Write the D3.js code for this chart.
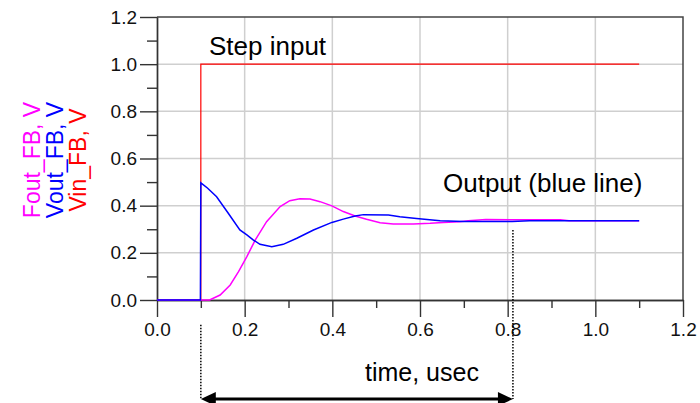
<!DOCTYPE html>
<html>
<head>
<meta charset="utf-8">
<script src="https://cdn.jsdelivr.net/npm/d3@7"></script>
<style>
  body { margin: 0; background: #fff; }
  svg text { font-family: "Liberation Sans", Arial, sans-serif; }
</style>
</head>
<body>
<script>
// time axis in usec, values in V
var vinTime = [0, 0.1, 0.1, 1.1];
var vinVals = [0, 0, 1.0, 1.0];

var voutTime = [0, 0.099, 0.1, 0.115, 0.136, 0.163, 0.189, 0.205, 0.220, 0.235, 0.262, 0.288, 0.319,
                0.357, 0.399, 0.425, 0.452, 0.471, 0.528, 0.554, 0.592, 0.646, 0.70, 0.81, 0.85, 1.1];
var voutVals = [0, 0, 0.497, 0.475, 0.438, 0.367, 0.297, 0.276, 0.254, 0.236, 0.226, 0.236, 0.262,
                0.297, 0.329, 0.343, 0.356, 0.362, 0.360, 0.353, 0.346, 0.336, 0.333, 0.333, 0.336, 0.336];

var foutTime = [0, 0.12, 0.144, 0.167, 0.186, 0.205, 0.224, 0.250, 0.281, 0.303, 0.326, 0.349, 0.372,
                0.399, 0.425, 0.452, 0.478, 0.509, 0.539, 0.585, 0.623, 0.653, 0.691, 0.71, 0.75, 0.92, 0.94, 1.1];
var foutVals = [0, 0, 0.021, 0.064, 0.120, 0.184, 0.254, 0.332, 0.396, 0.421, 0.429, 0.428, 0.417,
                0.399, 0.375, 0.356, 0.342, 0.328, 0.322, 0.322, 0.325, 0.329, 0.332, 0.336, 0.341, 0.340, 0.336, 0.336];

var majorTicks = [0, 0.2, 0.4, 0.6, 0.8, 1.0, 1.2];
var minorTicks = [0.1, 0.3, 0.5, 0.7, 0.9, 1.1];
var gridTicks = [0.2, 0.4, 0.6, 0.8, 1.0];

var yLabels = ["Fout_FB, V", "Vout_FB, V", "Vin_FB, V"];
var yLabelColors = ["#ff00ff", "#0000ff", "#ff0000"];

// annotation: span marked below the plot (usec) and where the dotted guides start (V)
var spanTimes = [0.1, 0.812];
var guideTops = [-0.105, 0.297];
var arrowLevel = -0.42;

var W = 700, H = 403;
var x = d3.scaleLinear().domain([0, 1.2]).range([157, 683]);
var y = d3.scaleLinear().domain([0, 1.2]).range([300, 17]);

var svg = d3.select("body").append("svg")
    .attr("width", W).attr("height", H);

svg.append("rect").attr("width", W).attr("height", H).attr("fill", "#fff");

// grid
svg.append("g").selectAll("line").data(gridTicks).enter().append("line")
    .attr("x1", function(d) { return x(d); }).attr("x2", function(d) { return x(d); })
    .attr("y1", y(0)).attr("y2", y(1.2))
    .attr("stroke", "#cfcfcf").attr("stroke-width", 1.5);
svg.append("g").selectAll("line").data(gridTicks).enter().append("line")
    .attr("y1", function(d) { return y(d); }).attr("y2", function(d) { return y(d); })
    .attr("x1", x(0)).attr("x2", x(1.2))
    .attr("stroke", "#cfcfcf").attr("stroke-width", 1.5);

// frame top + right
svg.append("path")
    .attr("d", "M" + x(0) + "," + y(1.2) + "H" + x(1.2) + "V" + y(0))
    .attr("fill", "none").attr("stroke", "#444").attr("stroke-width", 1.5);

function styleAxis(g) {
  g.selectAll("path, line").attr("stroke", "#333").attr("stroke-width", 1.4);
  g.selectAll("text").attr("fill", "#111").style("font-size", "19px");
}

// minor ticks
svg.append("g").attr("transform", "translate(0," + y(0) + ")")
    .call(d3.axisBottom(x).tickValues(minorTicks).tickSize(8).tickSizeOuter(0).tickFormat(""))
    .call(styleAxis);
svg.append("g").attr("transform", "translate(" + x(0) + ",0)")
    .call(d3.axisLeft(y).tickValues(minorTicks).tickSize(10).tickSizeOuter(0).tickFormat(""))
    .call(styleAxis);

// major ticks
svg.append("g").attr("transform", "translate(0," + y(0) + ")")
    .call(d3.axisBottom(x).tickValues(majorTicks).tickSize(17).tickPadding(6).tickSizeOuter(0).tickFormat(d3.format(".1f")))
    .call(styleAxis);
svg.append("g").attr("transform", "translate(" + x(0) + ",0)")
    .call(d3.axisLeft(y).tickValues(majorTicks).tickSize(17).tickPadding(3).tickSizeOuter(0).tickFormat(d3.format(".1f")))
    .call(styleAxis);

// series
function series(ts, vs) { return ts.map(function(t, i) { return [t, vs[i]]; }); }
var line = d3.line().x(function(d) { return x(d[0]); }).y(function(d) { return y(d[1]); });

svg.append("path").datum(series(vinTime, vinVals)).attr("d", line)
    .attr("fill", "none").attr("stroke", "#ff0000").attr("stroke-width", 1.2);
svg.append("path").datum(series(foutTime, foutVals)).attr("d", line)
    .attr("fill", "none").attr("stroke", "#ff00ff").attr("stroke-width", 1.5);
svg.append("path").datum(series(voutTime, voutVals)).attr("d", line)
    .attr("fill", "none").attr("stroke", "#0000ff").attr("stroke-width", 1.5);

// y label, rotated, three lines
var yl = svg.append("g").attr("transform", "translate(0,160) rotate(-90)");
yl.selectAll("text").data(yLabels).enter().append("text")
    .attr("x", 0).attr("y", function(d, i) { return 39.5 + i * 23.3; })
    .attr("text-anchor", "middle")
    .attr("fill", function(d, i) { return yLabelColors[i]; })
    .style("font-size", "23px")
    .text(function(d) { return d; });

// annotations
svg.append("text").attr("x", 209).attr("y", 55).style("font-size", "26px").text("Step input");
svg.append("text").attr("x", 443).attr("y", 192).style("font-size", "26px").text("Output (blue line)");
svg.append("text").attr("x", 365).attr("y", 381).style("font-size", "25px").text("time, usec");

svg.append("g").selectAll("line").data(spanTimes).enter().append("line")
    .attr("x1", function(d) { return x(d); }).attr("x2", function(d) { return x(d); })
    .attr("y1", function(d, i) { return y(guideTops[i]); }).attr("y2", y(arrowLevel))
    .attr("stroke", "#000").attr("stroke-width", 1.5).attr("stroke-dasharray", "1.5,1.5");

var ax0 = x(spanTimes[0]), ax1 = x(spanTimes[1]), ay = y(arrowLevel);
svg.append("line")
    .attr("x1", ax0 + 10).attr("x2", ax1 - 10).attr("y1", ay).attr("y2", ay)
    .attr("stroke", "#000").attr("stroke-width", 3);
svg.append("path")
    .attr("d", "M" + ax0 + "," + ay + "l15,-7v14z")
    .attr("fill", "#000");
svg.append("path")
    .attr("d", "M" + ax1 + "," + ay + "l-15,-7v14z")
    .attr("fill", "#000");
</script>
</body>
</html>
